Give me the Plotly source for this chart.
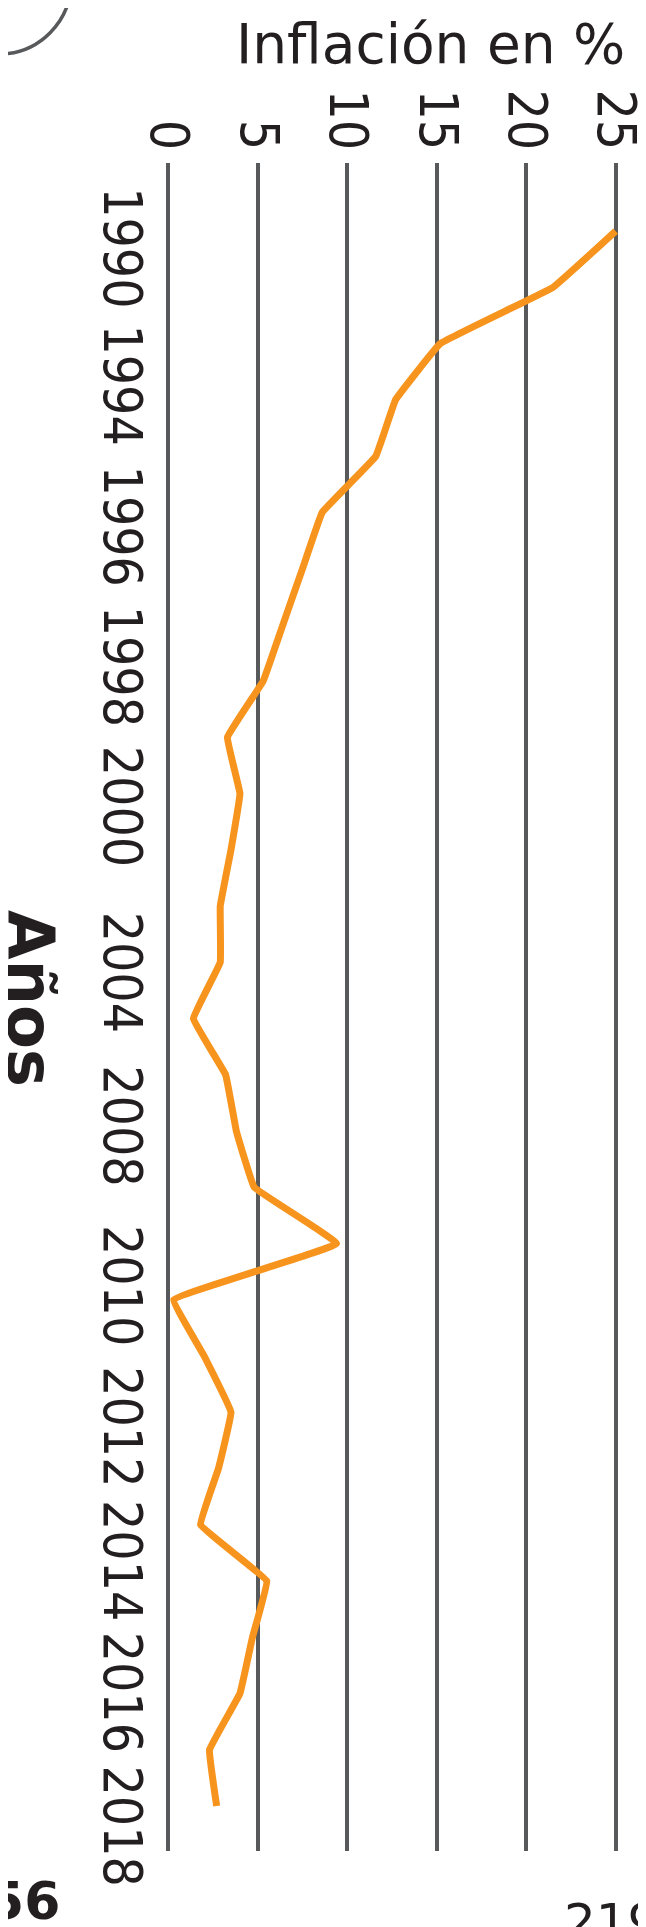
import plotly.graph_objects as go

years = list(range(1990, 2019))
inflation = [25.0, 21.5, 15.2, 12.7, 11.6, 8.6, 7.5, 6.4, 5.3, 3.3, 4.0, 3.5, 2.9, 2.9,
             1.4, 3.2, 3.8, 4.8, 9.4, 0.3, 2.0, 3.5, 2.8, 1.8, 5.5, 4.7, 4.0, 2.3, 2.7]

value_ticks = [0, 5, 10, 15, 20, 25]
year_tick_labels = ["1990", "1994", "1996", "1998", "2000", "2004",
                    "2008", "2010", "2012", "2014", "2016", "2018"]
year_tick_pos = [1990.44, 1992.88, 1995.39, 1997.88, 2000.37, 2003.32,
                 2006.05, 2008.89, 2011.40, 2013.78, 2016.12, 2018.50]

W, H = 646, 1927
L, R, T, B = 155, 33, 155, 84
pw, ph = W - L - R, H - T - B

def px(x):
    return (x - L) / pw

def py(y):
    return (H - B - y) / ph

TICK_FONT = dict(family="DejaVu Sans Condensed, DejaVu Sans", size=53, color="#231f20")

fig = go.Figure()
fig.add_trace(go.Scatter(
    x=inflation, y=years, mode="lines",
    line=dict(color="#f7941d", width=7, shape="spline", smoothing=0.2),
    hoverinfo="skip", showlegend=False,
))

fig.update_layout(
    width=W, height=H,
    margin=dict(l=L, r=R, t=T, b=B),
    paper_bgcolor="white", plot_bgcolor="white",
    xaxis=dict(
        range=[-0.3, 25.3], side="top", tickmode="array", tickvals=value_ticks,
        tickangle=90, tickfont=TICK_FONT, showgrid=True, gridcolor="#58595b",
        gridwidth=4, zeroline=False, showline=False, ticks="",
        ticklabelstandoff=4, automargin=False,
    ),
    yaxis=dict(
        range=[2018.8, 1988.79], tickmode="array", tickvals=year_tick_pos,
        ticktext=year_tick_labels, tickangle=90, tickfont=TICK_FONT,
        showgrid=False, zeroline=False, showline=False, ticks="",
        ticklabelstandoff=5, automargin=False,
    ),
    shapes=[dict(
        type="circle", xref="paper", yref="paper",
        x0=px(-81), x1=px(63), y0=py(46), y1=py(-98),
        line=dict(color="#58595b", width=3.5),
    )],
    annotations=[
        dict(text="Inflación en %", xref="paper", yref="paper",
             x=px(422), y=py(36), xanchor="center", yanchor="middle",
             showarrow=False,
             font=dict(family="DejaVu Sans", size=55, color="#231f20")),
        dict(text="<b>Años</b>", xref="paper", yref="paper",
             x=px(22), y=py(990), xanchor="center", yanchor="middle",
             textangle=90, showarrow=False,
             font=dict(family="DejaVu Sans", size=64, color="#231f20")),
        dict(text="<b>56</b>", xref="paper", yref="paper",
             x=px(-22), y=py(1861), xanchor="left", yanchor="top",
             showarrow=False,
             font=dict(family="DejaVu Sans", size=52, color="#231f20")),
        dict(text="219", xref="paper", yref="paper",
             x=px(554), y=py(1883), xanchor="left", yanchor="top",
             showarrow=False,
             font=dict(family="DejaVu Sans", size=50, color="#231f20")),
    ],
)

fig.write_html("out.html")
